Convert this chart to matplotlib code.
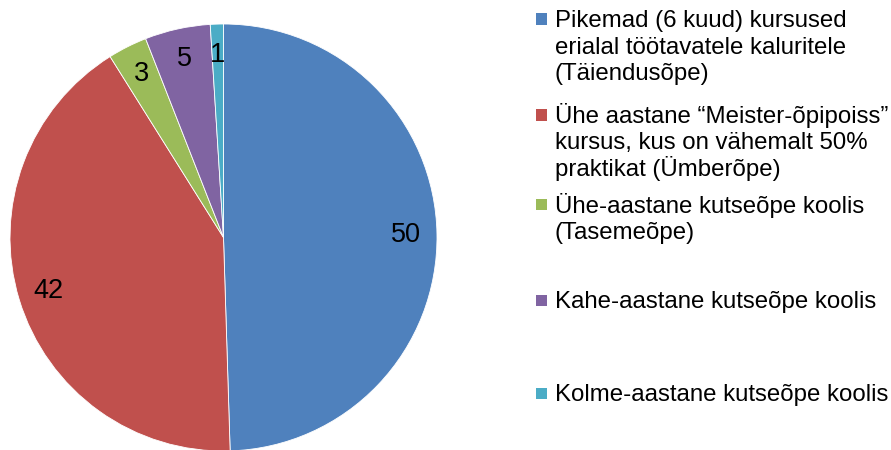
import matplotlib
matplotlib.use("Agg")
import matplotlib.pyplot as plt
from matplotlib.patches import Rectangle

plt.rcParams['font.family'] = ['Liberation Sans', 'DejaVu Sans']

categories = [
    "Pikemad (6 kuud) kursused\nerialal töötavatele kaluritele\n(Täiendusõpe)",
    "Ühe aastane \u201cMeister-õpipoiss\u201d\nkursus, kus on vähemalt 50%\npraktikat (Ümberõpe)",
    "Ühe-aastane kutseõpe koolis\n(Tasemeõpe)",
    "Kahe-aastane kutseõpe koolis",
    "Kolme-aastane kutseõpe koolis",
]
values = [50, 42, 3, 5, 1]
colors = ["#4F81BD", "#C0504D", "#9BBB59", "#8064A2", "#4BACC6"]

W, H = 891, 450
fig = plt.figure(figsize=(W / 100, H / 100), dpi=100)
cx, cy, r = 223.5, 237.5, 213.5
ax = fig.add_axes([(cx - r) / W, (H - cy - r) / H, 2 * r / W, 2 * r / H])
wedges, texts = ax.pie(values, colors=colors, startangle=90, counterclock=False,
                       labels=[str(v) for v in values], labeldistance=0.855,
                       wedgeprops=dict(edgecolor="white", linewidth=0.6),
                       textprops=dict(fontsize=19.5, color="black"))
for t in texts:
    t.set_ha("center")
    t.set_va("center")
ax.set_xlim(-1, 1)
ax.set_ylim(-1, 1)
ax.set_aspect("equal")

# legend (drawn manually to match the reference's uneven spacing)
first_baseline = [27, 123, 213, 308, 401]
line_step = 26.5
sq = 11
for lab, col, bl in zip(categories, colors, first_baseline):
    my = bl - 8
    fig.patches.append(Rectangle((536 / W, (H - my - sq / 2) / H), sq / W, sq / H,
                                 transform=fig.transFigure, facecolor=col, edgecolor="none"))
    for i, line in enumerate(lab.split("\n")):
        fig.text(555 / W, (H - bl - i * line_step) / H, line, ha="left", va="baseline",
                 fontsize=17.3, color="black", transform=fig.transFigure)

fig.savefig("out.png", dpi=100)
